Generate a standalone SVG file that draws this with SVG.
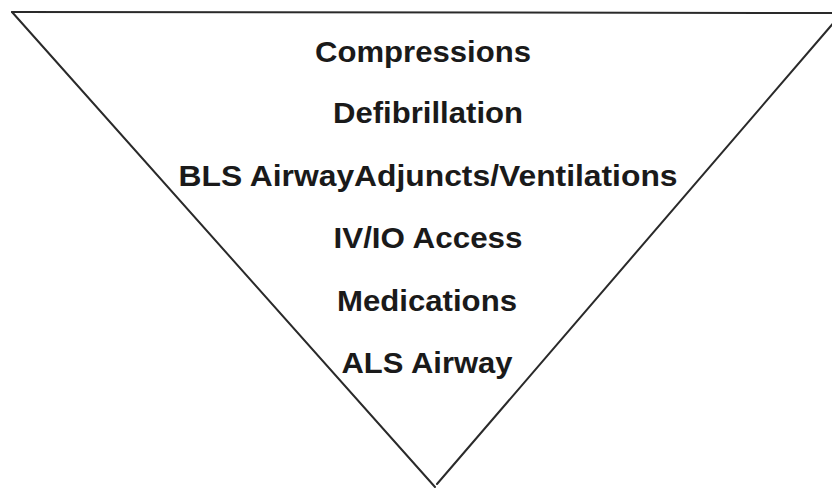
<svg xmlns="http://www.w3.org/2000/svg" width="832" height="489" viewBox="0 0 832 489">
<style>
.t{font-family:"Liberation Sans",Arial,sans-serif;font-weight:bold;font-size:30px;fill:#1a1a1a;text-anchor:middle}
.l{stroke:#2a2a2a;stroke-width:2;fill:none;stroke-linecap:round}
</style>
<rect width="832" height="489" fill="#fff"/>
<g id="triangle">
<polyline class="l" points="12,12 834,13"/>
<polyline class="l" points="12,12 435,487"/>
<polyline class="l" points="437,484 842,13"/>
</g>
<g id="labels">
<text class="t" x="423" y="62" textLength="216" lengthAdjust="spacingAndGlyphs">Compressions</text>
<text class="t" x="428" y="123" textLength="190" lengthAdjust="spacingAndGlyphs">Defibrillation</text>
<text class="t" x="428" y="186" textLength="499" lengthAdjust="spacingAndGlyphs">BLS AirwayAdjuncts/Ventilations</text>
<text class="t" x="428" y="248" textLength="189" lengthAdjust="spacingAndGlyphs">IV/IO Access</text>
<text class="t" x="427" y="311" textLength="180" lengthAdjust="spacingAndGlyphs">Medications</text>
<text class="t" x="427" y="373" textLength="171" lengthAdjust="spacingAndGlyphs">ALS Airway</text>
</g>
</svg>
